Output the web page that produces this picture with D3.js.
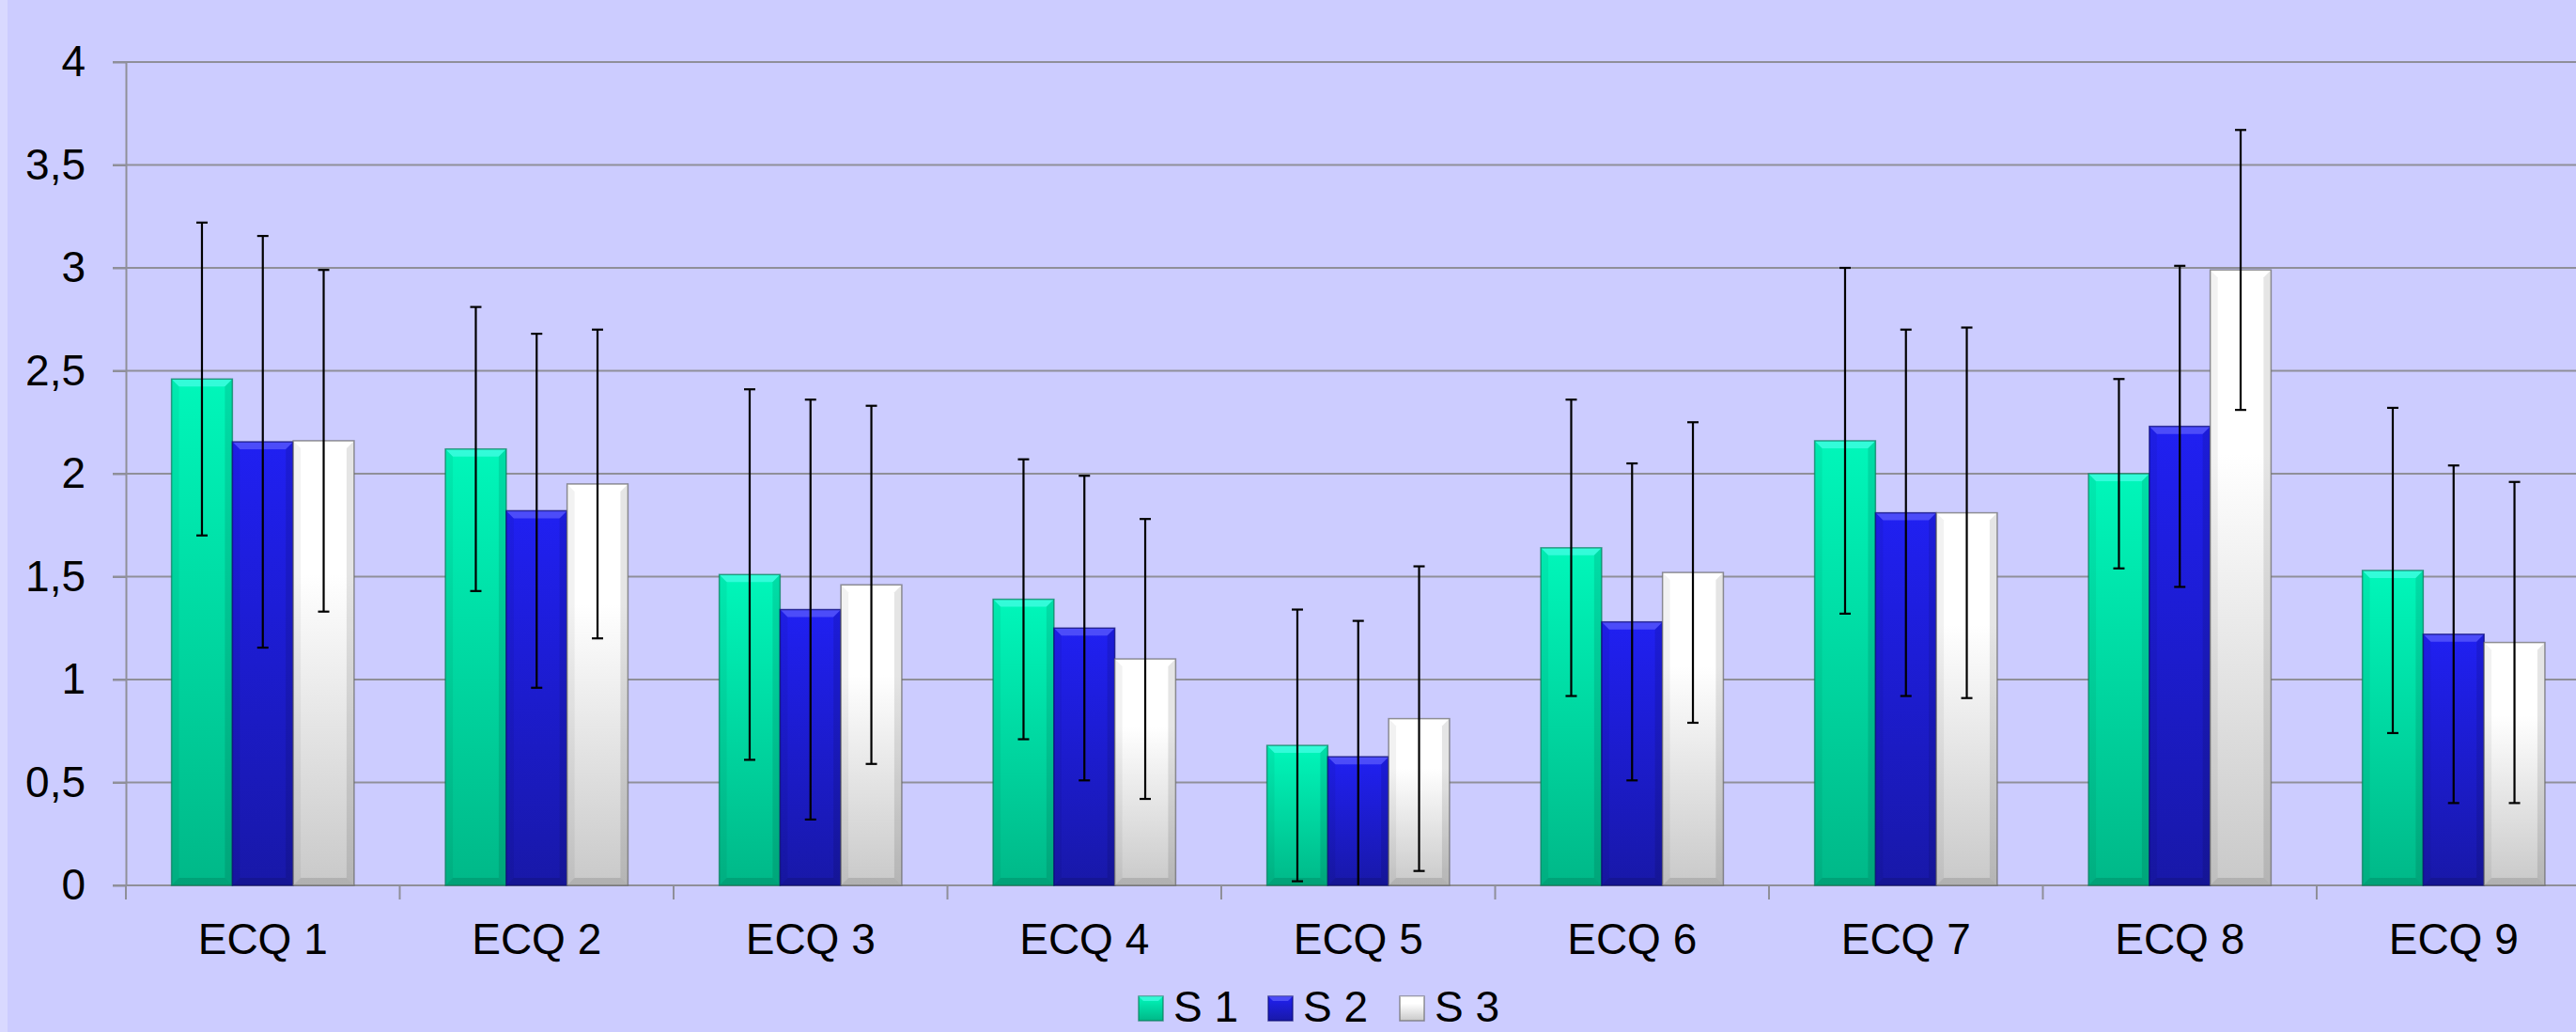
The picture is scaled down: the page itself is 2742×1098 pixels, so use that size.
<!DOCTYPE html>
<html>
<head>
<meta charset="utf-8">
<script src="https://cdn.jsdelivr.net/npm/d3@7"></script>
<style>
  html, body { margin: 0; padding: 0; background: #ccccff; overflow: hidden; }
  svg { display: block; font-family: "Liberation Sans", Arial, sans-serif; }
</style>
</head>
<body>
<div id="chart"></div>
<script>
// Data
const categories = ["ECQ 1", "ECQ 2", "ECQ 3", "ECQ 4", "ECQ 5", "ECQ 6", "ECQ 7", "ECQ 8", "ECQ 9"];
const seriesNames = ["S 1", "S 2", "S 3"];
const s1Mean = [2.46, 2.12, 1.51, 1.39, 0.68, 1.64, 2.16, 2.00, 1.53];
const s1Sd   = [0.76, 0.69, 0.90, 0.68, 0.66, 0.72, 0.84, 0.46, 0.79];
const s2Mean = [2.155, 1.82, 1.34, 1.25, 0.625, 1.28, 1.81, 2.23, 1.22];
const s2Sd   = [1.00, 0.86, 1.02, 0.74, 0.66, 0.77, 0.89, 0.78, 0.82];
const s3Mean = [2.16, 1.95, 1.46, 1.10, 0.81, 1.52, 1.81, 2.99, 1.18];
const s3Sd   = [0.83, 0.75, 0.87, 0.68, 0.74, 0.73, 0.90, 0.68, 0.78];
const yTicks = [0, 0.5, 1, 1.5, 2, 2.5, 3, 3.5, 4];

const W = 2742, H = 1098;
const plotLeft = 134, step = 291.5, plotTop = 66, zero = 942;
const fontSize = 46;

const series = [
  {name: seriesNames[0], mean: s1Mean, sd: s1Sd, c0: "#00f7ba", c1: "#00b888", bevel: "#55ffee", edge: "#0a7a5a"},
  {name: seriesNames[1], mean: s2Mean, sd: s2Sd, c0: "#2020f2", c1: "#1818a8", bevel: "#6a6aff", edge: "#0c0c70"},
  {name: seriesNames[2], mean: s3Mean, sd: s3Sd, c0: "#ffffff", c1: "#c9c9c9", bevel: "#ffffff", edge: "#666666"}
];

const svg = d3.select("#chart").append("svg")
  .attr("width", W)
  .attr("height", H);

// Gradients
const defs = svg.append("defs");
series.forEach((s, i) => {
  const g = defs.append("linearGradient")
    .attr("id", "grad" + i)
    .attr("x1", 0).attr("y1", 0).attr("x2", 0).attr("y2", 1);
  g.append("stop").attr("offset", "0%").attr("stop-color", s.c0);
  if (i === 2) g.append("stop").attr("offset", "30%").attr("stop-color", s.c0);
  g.append("stop").attr("offset", "100%").attr("stop-color", s.c1);
});

// Background and light strip on the left
svg.append("rect").attr("width", W).attr("height", H).attr("fill", "#ccccff");
svg.append("rect").attr("width", 8).attr("height", H).attr("fill", "#d9d9ff");

// Scales
const x = d3.scaleBand()
  .domain(categories)
  .range([plotLeft, plotLeft + step * categories.length])
  .padding(0);

const xs = d3.scaleBand()
  .domain(d3.range(series.length))
  .range([x.bandwidth() / 6, x.bandwidth() * 5 / 6])
  .padding(0);

const y = d3.scaleLinear()
  .domain([0, 4])
  .range([zero, plotTop]);

const fmt = v => String(v).replace(".", ",");

// Gridlines
svg.append("g")
  .selectAll("line")
  .data(yTicks)
  .join("line")
    .attr("x1", plotLeft - 14)
    .attr("x2", W)
    .attr("y1", d => y(d))
    .attr("y2", d => y(d))
    .attr("stroke", "#8f8f99")
    .attr("stroke-width", 2);

// Y axis
const yAxis = svg.append("g")
  .attr("transform", `translate(${plotLeft},0)`)
  .call(d3.axisLeft(y).tickValues(yTicks).tickSize(14).tickSizeOuter(0).tickPadding(29).tickFormat(fmt));
yAxis.select(".domain").attr("stroke", "#8f8f99").attr("stroke-width", 2);
yAxis.selectAll(".tick line").attr("stroke", "#8f8f99").attr("stroke-width", 2);
yAxis.selectAll(".tick text")
  .attr("fill", "#000")
  .style("font-size", fontSize + "px")
  .style("font-family", "'Liberation Sans', Arial, sans-serif");

// X axis ticks at band boundaries
const bounds = d3.range(categories.length + 1).map(i => x.range()[0] + i * x.step());
svg.append("g")
  .selectAll("line")
  .data(bounds)
  .join("line")
    .attr("x1", d => d)
    .attr("x2", d => d)
    .attr("y1", zero)
    .attr("y2", zero + 15)
    .attr("stroke", "#8f8f99")
    .attr("stroke-width", 2);

// X labels
svg.append("g")
  .selectAll("text")
  .data(categories)
  .join("text")
    .attr("x", d => x(d) + x.bandwidth() / 2)
    .attr("y", zero + 73)
    .attr("text-anchor", "middle")
    .style("font-size", fontSize + "px")
    .text(d => d);

// Bars with bevel
const b = 8;
series.forEach((s, si) => {
  const g = svg.append("g");
  categories.forEach((c, ci) => {
    const x0 = x(c) + xs(si), w = xs.bandwidth();
    const y0 = y(s.mean[ci]), h = zero - y0;
    g.append("rect")
      .attr("x", x0).attr("y", y0).attr("width", w).attr("height", h)
      .attr("fill", `url(#grad${si})`);
    // top bevel
    g.append("path")
      .attr("d", `M${x0},${y0}L${x0 + w},${y0}L${x0 + w - b},${y0 + b}L${x0 + b},${y0 + b}Z`)
      .attr("fill", s.bevel).attr("opacity", 0.6);
    // left bevel
    g.append("path")
      .attr("d", `M${x0},${y0}L${x0 + b},${y0 + b}L${x0 + b},${zero - b}L${x0},${zero}Z`)
      .attr("fill", "#000").attr("opacity", 0.05);
    // right bevel
    g.append("path")
      .attr("d", `M${x0 + w},${y0}L${x0 + w - b},${y0 + b}L${x0 + w - b},${zero - b}L${x0 + w},${zero}Z`)
      .attr("fill", "#000").attr("opacity", 0.1);
    // bottom bevel
    g.append("path")
      .attr("d", `M${x0},${zero}L${x0 + b},${zero - b}L${x0 + w - b},${zero - b}L${x0 + w},${zero}Z`)
      .attr("fill", "#000").attr("opacity", 0.12);
    g.append("rect")
      .attr("x", x0).attr("y", y0).attr("width", w).attr("height", h)
      .attr("fill", "none")
      .attr("stroke", s.edge).attr("stroke-opacity", 0.7).attr("stroke-width", 1.5);
  });
});

// Error bars
const cap = 6;
series.forEach((s, si) => {
  const g = svg.append("g").attr("stroke", "#000").attr("stroke-width", 2.2);
  categories.forEach((c, ci) => {
    const cx = x(c) + xs(si) + xs.bandwidth() / 2;
    const hi = s.mean[ci] + s.sd[ci];
    const lo = s.mean[ci] - s.sd[ci];
    g.append("line")
      .attr("x1", cx).attr("x2", cx)
      .attr("y1", y(hi)).attr("y2", y(Math.max(0, lo)));
    g.append("line")
      .attr("x1", cx - cap).attr("x2", cx + cap)
      .attr("y1", y(hi)).attr("y2", y(hi));
    if (lo >= 0) {
      g.append("line")
        .attr("x1", cx - cap).attr("x2", cx + cap)
        .attr("y1", y(lo)).attr("y2", y(lo));
    }
  });
});

// Legend
const legendX = [1212, 1350, 1490];
const legend = svg.append("g");
series.forEach((s, si) => {
  const lx = legendX[si], ly = 1060, sz = 26, lb = 5;
  legend.append("rect")
    .attr("x", lx).attr("y", ly).attr("width", sz).attr("height", sz)
    .attr("fill", `url(#grad${si})`)
    .attr("stroke", s.edge).attr("stroke-opacity", 0.7).attr("stroke-width", 1.5);
  legend.append("path")
    .attr("d", `M${lx},${ly}L${lx + sz},${ly}L${lx + sz - lb},${ly + lb}L${lx + lb},${ly + lb}Z`)
    .attr("fill", s.bevel).attr("opacity", 0.6);
  legend.append("text")
    .attr("x", lx + 37)
    .attr("y", 1087)
    .style("font-size", fontSize + "px")
    .text(s.name);
});
</script>
</body>
</html>
